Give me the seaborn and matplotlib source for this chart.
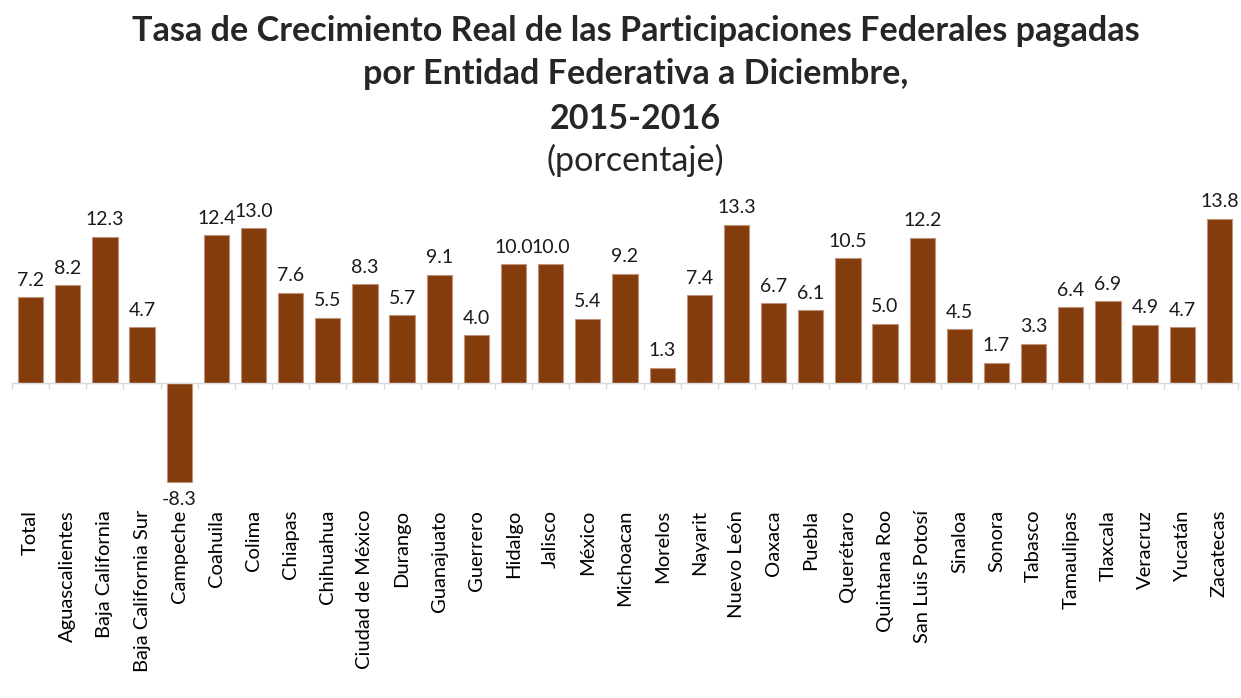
import matplotlib
matplotlib.use("Agg")
import matplotlib.pyplot as plt
import seaborn as sns
import numpy as np
import pandas as pd

entidades = ["Total", "Aguascalientes", "Baja California", "Baja California Sur", "Campeche",
             "Coahuila", "Colima", "Chiapas", "Chihuahua", "Ciudad de México", "Durango",
             "Guanajuato", "Guerrero", "Hidalgo", "Jalisco", "México", "Michoacan", "Morelos",
             "Nayarit", "Nuevo León", "Oaxaca", "Puebla", "Querétaro", "Quintana Roo",
             "San Luis Potosí", "Sinaloa", "Sonora", "Tabasco", "Tamaulipas", "Tlaxcala",
             "Veracruz", "Yucatán", "Zacatecas"]
tasas = [7.2, 8.2, 12.3, 4.7, -8.3, 12.4, 13.0, 7.6, 5.5, 8.3, 5.7, 9.1, 4.0, 10.0, 10.0,
         5.4, 9.2, 1.3, 7.4, 13.3, 6.7, 6.1, 10.5, 5.0, 12.2, 4.5, 1.7, 3.3, 6.4, 6.9,
         4.9, 4.7, 13.8]

titulo = ["Tasa de Crecimiento Real de las Participaciones Federales pagadas",
          "por Entidad Federativa a Diciembre,",
          "2015-2016"]
subtitulo = "(porcentaje)"

df = pd.DataFrame({"entidad": entidades, "tasa": tasas})

sns.set_theme(style="white")
plt.rcParams["font.family"] = ["Lato", "DejaVu Sans"]

W, H = 1241, 698
fig = plt.figure(figsize=(W / 100, H / 100), dpi=100)
px_zero = 383
scale = 11.9
top_px, bot_px = 190, 505
ax = fig.add_axes([12 / W, 1 - bot_px / H, (1238 - 12) / W, (bot_px - top_px) / H])

color = "#843C0C"
sns.barplot(data=df, x="entidad", y="tasa", color=color, width=0.68, ax=ax,
            edgecolor="#C0947A", linewidth=0.8, saturation=1)

ax.set_ylim(-(bot_px - px_zero) / scale, (px_zero - top_px) / scale)
ax.set_xlim(-0.5, len(entidades) - 0.5)
ax.set_xlabel("")
ax.set_ylabel("")
ax.set_yticks([])
for s in ["top", "right", "left"]:
    ax.spines[s].set_visible(False)
ax.spines["bottom"].set_position(("data", 0))
ax.spines["bottom"].set_color("#D9D9D9")
ax.spines["bottom"].set_linewidth(1.0)
ax.set_xticks(np.arange(len(entidades)))
ax.set_xticklabels(entidades, rotation=90, fontsize=14.5, color="black")
ax.set_xticks(np.arange(len(entidades) + 1) - 0.5, minor=True)
ax.tick_params(axis="x", which="major", bottom=True, length=0, pad=(510 - px_zero) * 0.72)
ax.tick_params(axis="x", which="minor", bottom=True, length=4, width=1.0,
               color="#D9D9D9", direction="out")
ax.set_zorder(1)

for i, v in enumerate(tasas):
    if v >= 0:
        ax.annotate(f"{v:.1f}", (i, v), xytext=(0, 6), textcoords="offset points",
                    ha="center", va="bottom", fontsize=14, color="#1a1a1a")
    else:
        ax.annotate(f"{v:.1f}", (i, v), xytext=(0, -7), textcoords="offset points",
                    ha="center", va="top", fontsize=14, color="#1a1a1a")

cx = 0.512
fig.text(cx, 1 - 31 / H, titulo[0], ha="center", va="center", fontsize=24.6, fontweight="bold")
fig.text(cx, 1 - 74 / H, titulo[1], ha="center", va="center", fontsize=24.6, fontweight="bold")
fig.text(cx, 1 - 119 / H, titulo[2], ha="center", va="center", fontsize=24.6, fontweight="bold")
fig.text(cx, 1 - 160 / H, subtitulo, ha="center", va="center", fontsize=24.6)

fig.savefig("out.png", dpi=100, facecolor="white")
